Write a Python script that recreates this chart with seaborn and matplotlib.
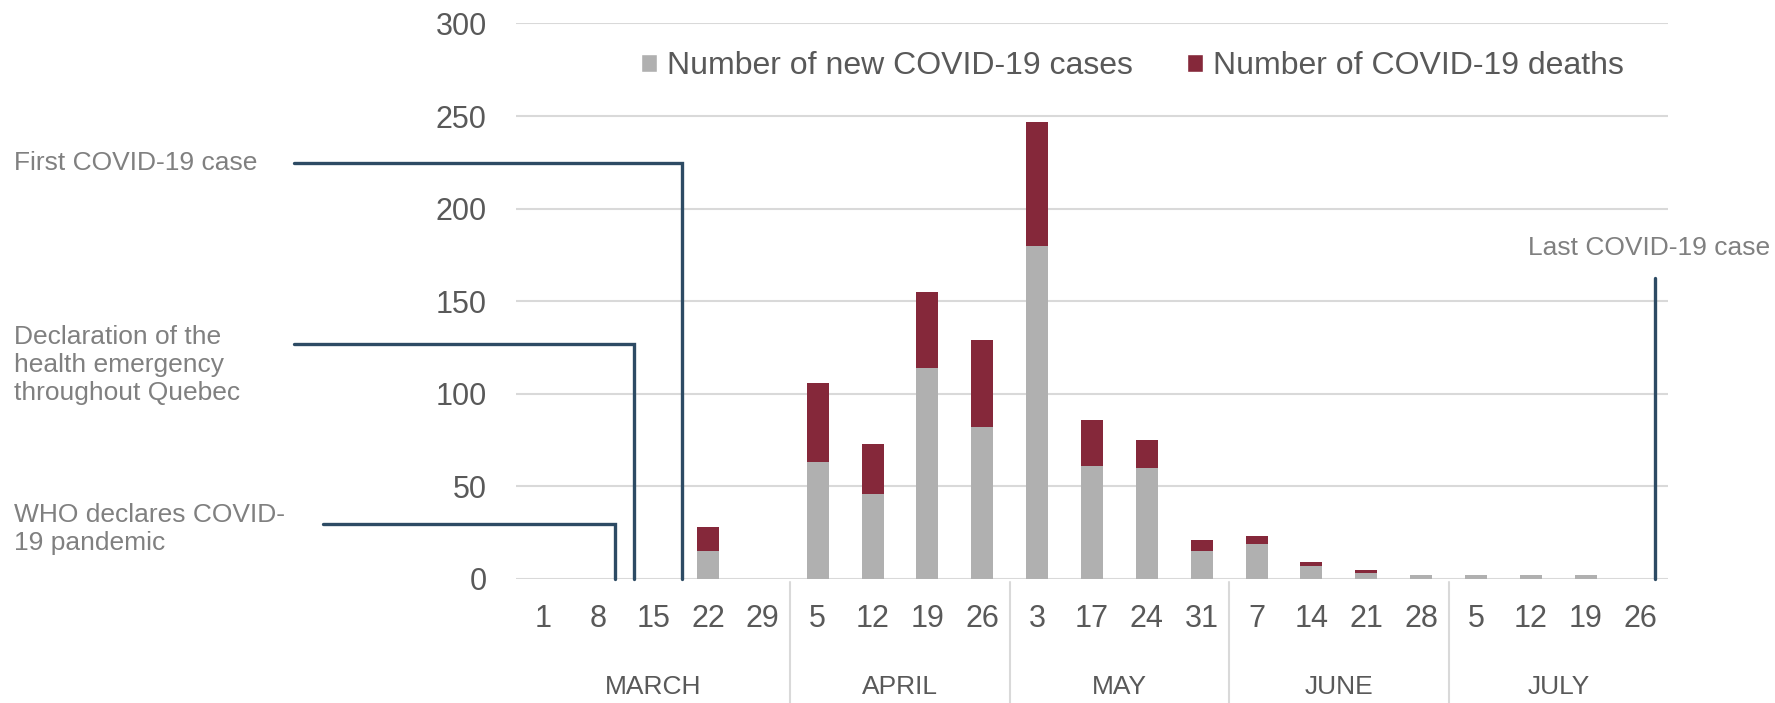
import pandas as pd
import numpy as np
import matplotlib.pyplot as plt
import matplotlib.transforms as mtransforms
from matplotlib.patches import Patch
import seaborn as sns

sns.set_style('white')
plt.rcParams['font.family'] = ['Liberation Sans', 'DejaVu Sans']

# Weekly data, March to July
months = ['MARCH', 'APRIL', 'MAY', 'JUNE', 'JULY']
days = [[1, 8, 15, 22, 29], [5, 12, 19, 26], [3, 17, 24, 31], [7, 14, 21, 28], [5, 12, 19, 26]]
new_cases = [0, 0, 0, 15, 0, 63, 46, 114, 82, 180, 61, 60, 15, 19, 7, 3, 2, 2, 2, 2, 0]
deaths = [0, 0, 0, 13, 0, 43, 27, 41, 47, 67, 25, 15, 6, 4, 2, 2, 0, 0, 0, 0, 0]

# Events (x in week slots, y = height of leader line)
event_labels = ['WHO declares COVID-\n19 pandemic',
                'Declaration of the\nhealth emergency\nthroughout Quebec',
                'First COVID-19 case']
event_x = [1.30, 1.65, 2.53]
event_y = [29.7, 126.9, 224.8]
last_case_label = 'Last COVID-19 case'
last_case_x = 20.26
last_case_y = 162.5

GRAY = '#b0b0b0'
RED = '#85283a'
NAVY = '#2d4b64'
TXT = '#595959'
NOTE = '#808080'
GRID = '#d9d9d9'

week_keys, week_labels = [], []
for m, ds in zip(months, days):
    for d in ds:
        week_keys.append(f'{m}-{d}')
        week_labels.append(str(d))

df = pd.DataFrame({'week': week_keys, 'cases': new_cases, 'deaths': deaths})
df['total'] = df['cases'] + df['deaths']

fig = plt.figure(figsize=(17.75, 7.03), dpi=100)
ax = fig.add_axes([0.2907, 0.1764, 0.649, 0.7902])

sns.barplot(data=df, x='week', y='total', order=week_keys, color=RED,
            width=0.4, saturation=1, errorbar=None, linewidth=0, ax=ax, zorder=3)
sns.barplot(data=df, x='week', y='cases', order=week_keys, color=GRAY,
            width=0.4, saturation=1, errorbar=None, linewidth=0, ax=ax, zorder=3)

ax.set_xlim(-0.5, len(week_keys) - 0.5)
ax.set_ylim(0, 300)
ax.set_yticks(range(0, 301, 50))
ax.set_xticks(range(len(week_keys)))
ax.set_xticklabels(week_labels)
ax.set_xlabel('')
ax.set_ylabel('')
ax.yaxis.grid(True, color=GRID, lw=1.5, zorder=0)
ax.set_axisbelow(True)
sns.despine(ax=ax, left=True, bottom=True)
ax.tick_params(axis='y', length=0, pad=21, labelsize=22, labelcolor=TXT)
ax.tick_params(axis='x', length=0, pad=18, labelsize=22, labelcolor=TXT)

# Month labels and separators
trans = mtransforms.blended_transform_factory(ax.transData, ax.transAxes)
start = 0
for i, (m, ds) in enumerate(zip(months, days)):
    center = start + (len(ds) - 1) / 2
    ax.text(center, -0.194, m, transform=trans, ha='center', va='center',
            fontsize=19, color=TXT)
    start += len(ds)
    if i < len(months) - 1:
        ax.plot([start - 0.5, start - 0.5], [-0.005, -0.23], transform=trans,
                color=GRID, lw=1.5, clip_on=False)

# Event leader lines
x_left = [-4.02, -4.55, -4.55]
for xl, x, y in zip(x_left, event_x, event_y):
    ax.plot([xl, x, x], [y, y, 0], color=NAVY, lw=2.4, clip_on=False,
            solid_joinstyle='miter', zorder=4)
ax.plot([last_case_x, last_case_x], [last_case_y, 0], color=NAVY, lw=2.4,
        clip_on=False, zorder=4)

fig.text(0.0077, 0.2475, event_labels[0], ha='left', va='center', fontsize=19,
         color=NOTE, linespacing=1.2)
fig.text(0.0077, 0.481, event_labels[1], ha='left', va='center', fontsize=19,
         color=NOTE, linespacing=1.2)
fig.text(0.0077, 0.768, event_labels[2], ha='left', va='center', fontsize=19,
         color=NOTE)
fig.text(0.997, 0.647, last_case_label, ha='right', va='center', fontsize=19,
         color=NOTE)

handles = [Patch(facecolor=GRAY), Patch(facecolor=RED)]
fig.legend(handles, ['Number of new COVID-19 cases', 'Number of COVID-19 deaths'],
           loc='center', bbox_to_anchor=(0.638, 0.906), ncol=2, frameon=False,
           fontsize=23, handlelength=0.5, handleheight=0.5,
           handletextpad=0.3, columnspacing=1.7, labelcolor=TXT)

fig.savefig('out.png', dpi=100)
